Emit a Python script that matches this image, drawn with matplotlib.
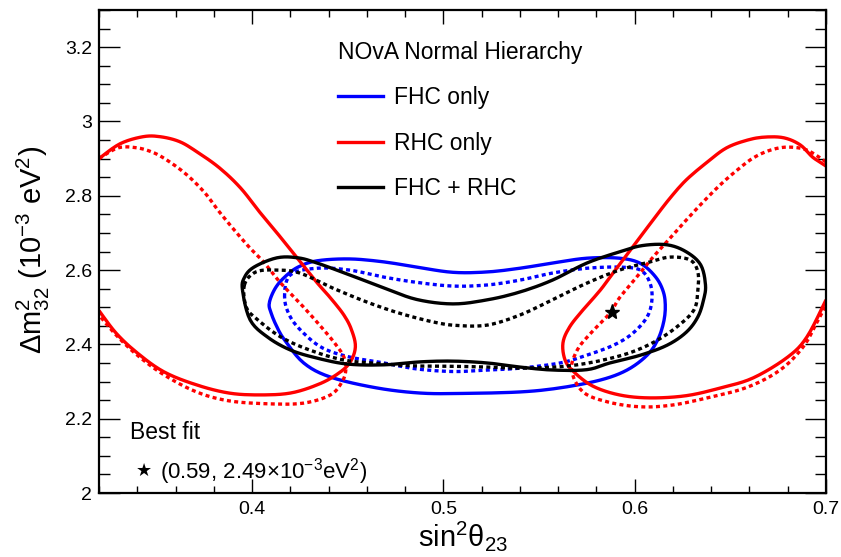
import matplotlib
matplotlib.use("Agg")
import matplotlib.pyplot as plt
from matplotlib.ticker import MultipleLocator, FuncFormatter
from matplotlib.lines import Line2D
import numpy as np

plt.rcParams['font.family'] = ['Liberation Sans', 'DejaVu Sans']
plt.rcParams['mathtext.fontset'] = 'custom'
plt.rcParams['mathtext.rm'] = 'Liberation Sans'
plt.rcParams['mathtext.it'] = 'Liberation Sans:italic'
plt.rcParams['mathtext.default'] = 'regular'

# contours: (sin^2 theta23, dm^2_32 in 1e-3 eV^2)
# FHC only (blue), closed curves
fhc_x = [0.409, 0.412, 0.417, 0.424, 0.434, 0.451, 0.469, 0.486, 0.505, 0.523, 0.540, 0.557,
         0.575, 0.592, 0.603, 0.611, 0.615, 0.616, 0.615, 0.612, 0.6065, 0.596, 0.582, 0.561,
         0.540, 0.510, 0.488, 0.465, 0.441, 0.427, 0.417, 0.413, 0.410]
fhc_y = [2.511, 2.550, 2.581, 2.608, 2.625, 2.630, 2.622, 2.608, 2.594, 2.595, 2.605, 2.619,
         2.632, 2.632, 2.618, 2.581, 2.541, 2.500, 2.457, 2.412, 2.371, 2.331, 2.304, 2.283,
         2.272, 2.268, 2.269, 2.283, 2.312, 2.350, 2.412, 2.447, 2.484]
fhc_dot_x = [0.417, 0.420, 0.434, 0.451, 0.469, 0.486, 0.505, 0.523, 0.540, 0.557, 0.575, 0.592,
             0.603, 0.608, 0.609, 0.6065, 0.599, 0.589, 0.575, 0.561, 0.540, 0.523, 0.505, 0.486,
             0.469, 0.451, 0.437, 0.427, 0.420]
fhc_dot_y = [2.527, 2.587, 2.605, 2.600, 2.581, 2.567, 2.557, 2.560, 2.573, 2.592, 2.605, 2.608,
             2.600, 2.565, 2.520, 2.474, 2.430, 2.398, 2.371, 2.350, 2.336, 2.331, 2.327, 2.334,
             2.350, 2.366, 2.390, 2.430, 2.474]

# RHC only (red), two open pieces cut by the frame
rhc_l_x = [0.320, 0.331, 0.343, 0.352, 0.362, 0.371, 0.383, 0.394, 0.404, 0.414, 0.424, 0.434,
           0.441, 0.448, 0.452, 0.454, 0.451, 0.444, 0.434, 0.420, 0.404, 0.388, 0.371, 0.354,
           0.340, 0.329, 0.320]
rhc_l_y = [2.900, 2.940, 2.959, 2.959, 2.946, 2.919, 2.875, 2.821, 2.756, 2.694, 2.630, 2.566,
           2.525, 2.479, 2.439, 2.393, 2.350, 2.318, 2.291, 2.269, 2.264, 2.269, 2.291, 2.326,
           2.377, 2.430, 2.491]
rhc_r_x = [0.700, 0.693, 0.6865, 0.678, 0.668, 0.659, 0.648, 0.638, 0.627, 0.6185, 0.6096, 0.601,
           0.591, 0.582, 0.573, 0.566, 0.5625, 0.5636, 0.568, 0.578, 0.592, 0.608, 0.627, 0.645,
           0.662, 0.680, 0.690, 0.700]
rhc_r_y = [2.880, 2.904, 2.937, 2.956, 2.958, 2.950, 2.929, 2.891, 2.843, 2.794, 2.735, 2.676,
           2.608, 2.546, 2.493, 2.447, 2.404, 2.358, 2.327, 2.288, 2.264, 2.256, 2.262, 2.283,
           2.310, 2.366, 2.420, 2.520]
rhc_dot_l_x = [0.320, 0.330, 0.340, 0.349, 0.357, 0.366, 0.375, 0.383, 0.392, 0.399, 0.406, 0.415,
               0.427, 0.4375, 0.444, 0.448, 0.449, 0.447, 0.441, 0.427, 0.409, 0.388, 0.371, 0.354,
               0.340, 0.329, 0.320]
rhc_dot_l_y = [2.900, 2.929, 2.929, 2.915, 2.891, 2.856, 2.810, 2.756, 2.700, 2.659, 2.622, 2.565,
               2.500, 2.439, 2.398, 2.366, 2.331, 2.299, 2.264, 2.242, 2.240, 2.248, 2.272, 2.318,
               2.371, 2.425, 2.479]
rhc_dot_r_x = [0.700, 0.690, 0.680, 0.671, 0.662, 0.6535, 0.6446, 0.6357, 0.627, 0.6185, 0.6096,
               0.601, 0.592, 0.587, 0.577, 0.570, 0.567, 0.573, 0.586, 0.603, 0.620, 0.6395, 0.659,
               0.676, 0.688, 0.695, 0.700]
rhc_dot_r_y = [2.891, 2.923, 2.931, 2.923, 2.902, 2.869, 2.829, 2.783, 2.735, 2.686, 2.635,
               2.581, 2.525, 2.484, 2.430, 2.385, 2.331, 2.272, 2.245, 2.232, 2.237, 2.258, 2.285,
               2.331, 2.393, 2.457, 2.506]

# FHC + RHC (black), closed curves
both_x = [0.395, 0.396, 0.401, 0.413, 0.424, 0.434, 0.451, 0.469, 0.486, 0.505, 0.523, 0.540,
          0.557, 0.575, 0.592, 0.604, 0.617, 0.627, 0.6345, 0.637, 0.636, 0.633, 0.627, 0.617,
          0.603, 0.587, 0.575, 0.557, 0.540, 0.523, 0.505, 0.488, 0.469, 0.450, 0.434, 0.420,
          0.408, 0.399]
both_y = [2.546, 2.580, 2.608, 2.633, 2.633, 2.619, 2.587, 2.552, 2.521, 2.509, 2.520, 2.541,
          2.573, 2.619, 2.649, 2.666, 2.668, 2.649, 2.614, 2.560, 2.520, 2.474, 2.433, 2.398,
          2.371, 2.350, 2.332, 2.331, 2.339, 2.350, 2.355, 2.353, 2.345, 2.347, 2.363, 2.385,
          2.420, 2.466]
both_dot_x = [0.396, 0.402, 0.413, 0.425, 0.442, 0.460, 0.477, 0.495, 0.507, 0.523, 0.540, 0.557,
              0.575, 0.592, 0.608, 0.6185, 0.629, 0.633, 0.633, 0.631, 0.622, 0.610, 0.596, 0.578,
              0.561, 0.540, 0.523, 0.505, 0.486, 0.469, 0.448, 0.430, 0.415, 0.403, 0.397]
both_dot_y = [2.560, 2.595, 2.600, 2.592, 2.552, 2.514, 2.484, 2.460, 2.451, 2.452, 2.479, 2.520,
              2.565, 2.600, 2.622, 2.635, 2.627, 2.595, 2.546, 2.493, 2.447, 2.406, 2.375, 2.352,
              2.340, 2.336, 2.339, 2.341, 2.342, 2.347, 2.358, 2.385, 2.420, 2.466, 2.500]

best_fit = (0.588, 2.488)
legend_labels = ["FHC only", "RHC only", "FHC + RHC"]
colors = ["#0000ff", "#ff0000", "#000000"]


def smooth(xs, ys, closed=False, n=6):
    """Catmull-Rom curve through the read points, only to draw them rounder."""
    p = np.column_stack([xs, ys]).astype(float)
    if closed:
        p = np.vstack([p[-1], p, p[0], p[1]])
    else:
        p = np.vstack([p[0], p, p[-1]])
    t = np.linspace(0, 1, n, endpoint=False)[:, None]
    out = []
    for i in range(1, len(p) - 2):
        p0, p1, p2, p3 = p[i - 1], p[i], p[i + 1], p[i + 2]
        seg = 0.5 * ((2 * p1) + (-p0 + p2) * t + (2 * p0 - 5 * p1 + 4 * p2 - p3) * t ** 2
                     + (-p0 + 3 * p1 - 3 * p2 + p3) * t ** 3)
        out.append(seg)
    out.append(p[-2][None, :])
    out = np.vstack(out)
    return out[:, 0], out[:, 1]


fig = plt.figure(figsize=(8.41, 5.57), dpi=100)
ax = fig.add_axes([0.1177, 0.1149, 0.8645, 0.8671])

lw = 2.4
dots = (0, (1.2, 1.0))
solid = dict(lw=lw, solid_capstyle='butt')
dotted = dict(lw=lw, ls=dots, dash_capstyle='butt')

# blue
ax.plot(*smooth(fhc_x, fhc_y, True), color=colors[0], **solid)
ax.plot(*smooth(fhc_dot_x, fhc_dot_y, True), color=colors[0], **dotted)
# red
ax.plot(*smooth(rhc_l_x, rhc_l_y), color=colors[1], **solid)
ax.plot(*smooth(rhc_r_x, rhc_r_y), color=colors[1], **solid)
ax.plot(*smooth(rhc_dot_l_x, rhc_dot_l_y), color=colors[1], **dotted)
ax.plot(*smooth(rhc_dot_r_x, rhc_dot_r_y), color=colors[1], **dotted)
# black
ax.plot(*smooth(both_x, both_y, True), color=colors[2], **solid)
ax.plot(*smooth(both_dot_x, both_dot_y, True), color=colors[2], **dotted)

ax.plot([best_fit[0]], [best_fit[1]], marker='*', color='black', ms=11, ls='none')

ax.set_xlim(0.32, 0.70)
ax.set_ylim(2.0, 3.3)
ax.xaxis.set_major_locator(MultipleLocator(0.1))
ax.xaxis.set_minor_locator(MultipleLocator(0.02))
ax.yaxis.set_major_locator(MultipleLocator(0.2))
ax.yaxis.set_minor_locator(MultipleLocator(0.05))
fmt = FuncFormatter(lambda v, p: '%g' % round(v, 3))
ax.xaxis.set_major_formatter(fmt)
ax.yaxis.set_major_formatter(fmt)

ax.tick_params(which='both', direction='in', top=True, right=True, width=1.0, labelsize=14)
ax.tick_params(axis='x', which='major', length=10, pad=6)
ax.tick_params(axis='x', which='minor', length=5)
ax.tick_params(axis='y', which='major', length=15, pad=5)
ax.tick_params(axis='y', which='minor', length=8)
for s in ax.spines.values():
    s.set_linewidth(1.6)

ax.set_xlabel('sin$^{2}$θ$_{23}$', fontsize=21)
ax.xaxis.set_label_coords(0.5, -0.054)
ax.set_ylabel('Δm$^{2}_{32}$ (10$^{-3}$ eV$^{2}$)', fontsize=21)
ax.yaxis.set_label_coords(-0.065, 0.503)

handles = [Line2D([], [], color=c, lw=2.4) for c in colors]
leg = ax.legend(handles, legend_labels, title='NOvA Normal Hierarchy', loc='upper left',
                bbox_to_anchor=(0.30, 0.979), frameon=False, fontsize=16.5, title_fontsize=16.5,
                handlelength=1.96, handletextpad=0.48, labelspacing=0.98, alignment='left')

ax.text(0.043, 0.126, 'Best fit', transform=ax.transAxes, fontsize=16.5, va='center')
ax.text(0.051, 0.045, '★', transform=ax.transAxes, fontsize=13, va='center',
        family='DejaVu Sans')
ax.text(0.084, 0.045, '(0.59, 2.49$\\times$10$^{-3}$eV$^{2}$)', transform=ax.transAxes,
        fontsize=16, va='center')

fig.savefig('out.png', dpi=100)
